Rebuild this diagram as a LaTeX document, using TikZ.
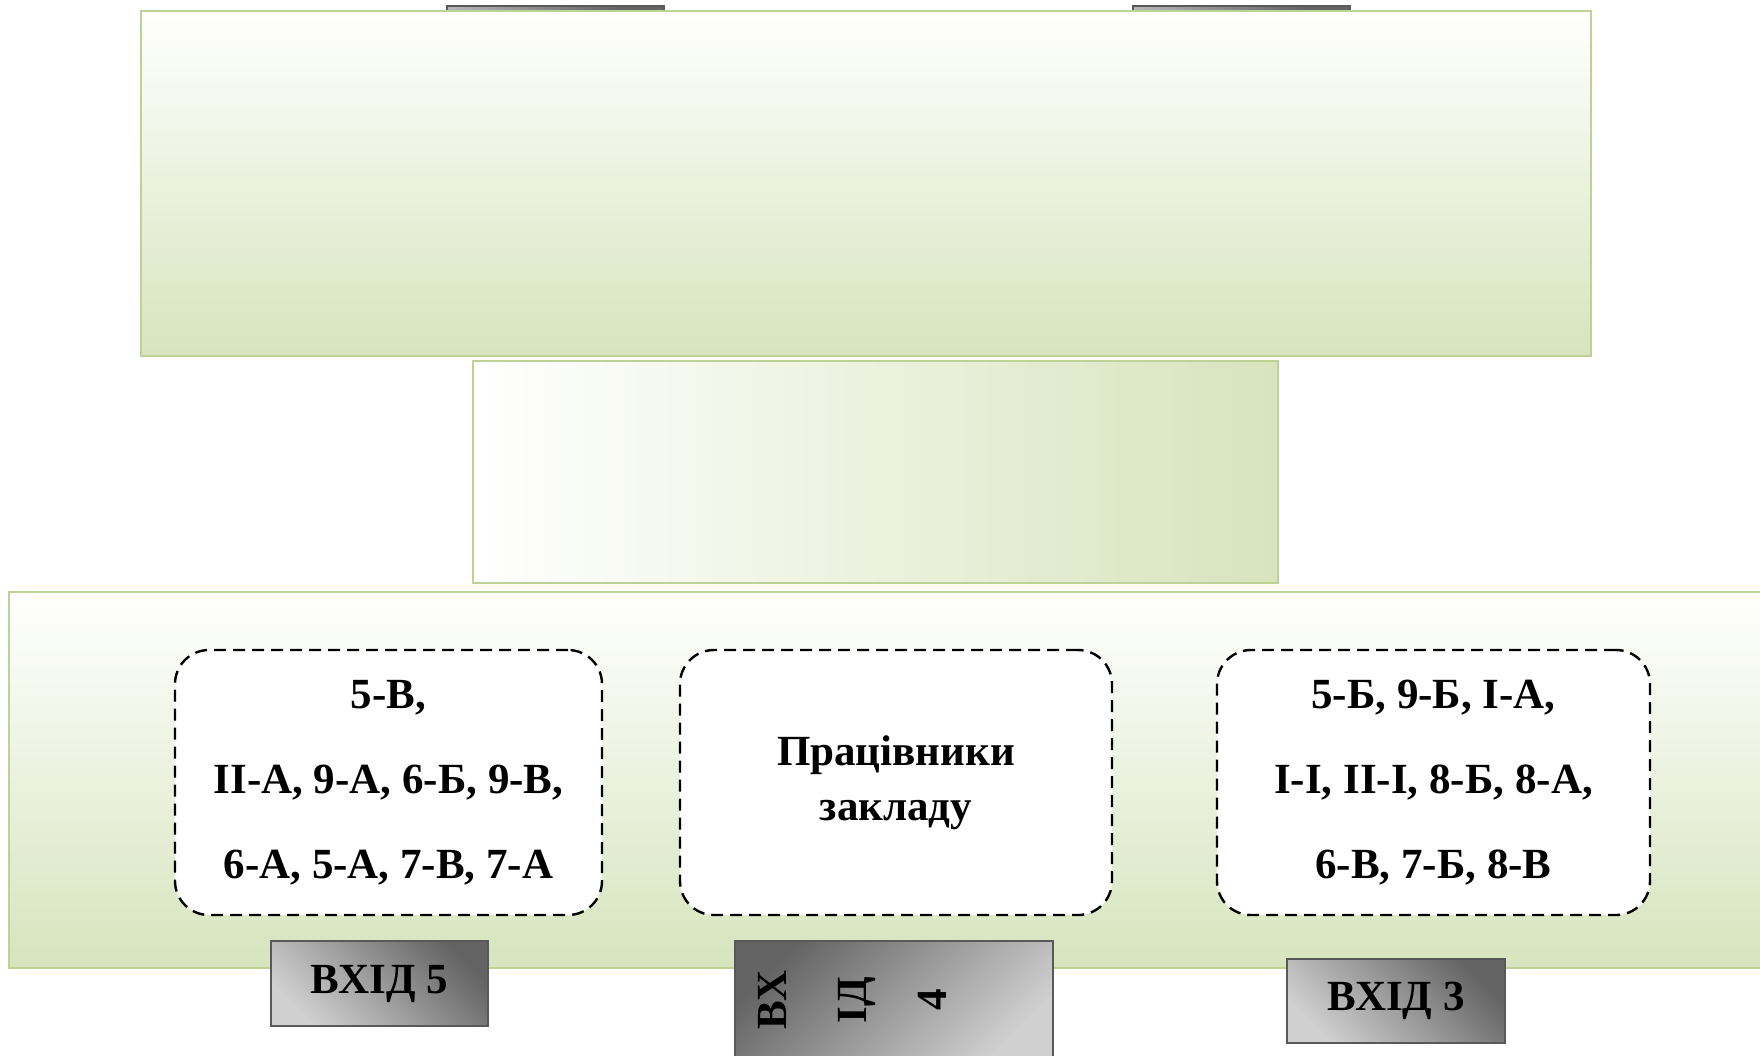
\documentclass[tikz,border=0pt]{standalone}
\usepackage{fontspec}
\setmainfont{Liberation Serif}
\usetikzlibrary{positioning,shapes}
\definecolor{leaf}{RGB}{215,228,189}
\definecolor{leafline}{RGB}{190,210,150}
\definecolor{tabdark}{RGB}{100,100,100}
\definecolor{tablight}{RGB}{208,208,208}
\definecolor{tabline}{RGB}{89,89,89}

\begin{document}
\begin{tikzpicture}[x=0.5pt,y=-0.5pt] % one unit = one pixel of the plan
\tikzstyle{block}=[draw=leafline, line width=1.3pt, inner sep=0pt]
\tikzstyle{group}=[draw, dash pattern=on 6pt off 3.5pt, line width=1.2pt, fill=white, rounded corners=17pt, align=center, minimum height=132.5pt, font=\fontsize{21.5}{42.5}\selectfont\bfseries]
\tikzstyle{entry}=[draw=tabline, line width=1pt, top color=tabdark, bottom color=tablight, shading angle=-45, minimum width=108.5pt, minimum height=42.5pt, font=\fontsize{21.5}{25}\selectfont\bfseries]

\useasboundingbox (0,0) rectangle (1760,1055);

% entries hidden behind the top block
\node[entry, minimum height=50pt] (in1) at (555,56) {};
\node[entry, minimum height=50pt] (in2) at (1241,56) {};

\node[block, top color=white, bottom color=leaf, minimum width=725pt, minimum height=172.5pt] (main) at (866,183.5) {};
\node[block, left color=white, right color=leaf, minimum width=402.5pt, minimum height=111pt] (hall) at (875.5,472) {};
\node[block, top color=white, bottom color=leaf, minimum width=877.5pt, minimum height=188pt] (yard) at (886.5,780) {};

\node[group, minimum width=213.5pt] (west) at (388.5,782.5) {5-В,\\ІІ-А, 9-А, 6-Б, 9-В,\\6-А, 5-А, 7-В, 7-А};
\node[group, minimum width=216pt, font=\fontsize{21.5}{27.5}\selectfont\bfseries] (staff) at (896,782.5) {Працівники\\закладу};
\node[group, minimum width=216.5pt] (east) at (1433.5,782.5) {5-Б, 9-Б, І-А,\\І-І, ІІ-І, 8-Б, 8-А,\\6-В, 7-Б, 8-В};

\node[entry] (in5) at (379.5,983.5) {ВХІД 5};
\node[entry, minimum width=159pt, minimum height=59pt, shading angle=45] (in4) at (894,1000) {};
\node[rotate=90, anchor=north, align=center, inner sep=0pt, font=\fontsize{21.5}{40}\selectfont\bfseries] (in4text) at ([xshift=12pt]in4.west) {ВХ\\ІД\\4};
\node[entry, minimum width=109pt, minimum height=42pt] (in3) at (1396,1001) {ВХІД 3};
\end{tikzpicture}
\end{document}
